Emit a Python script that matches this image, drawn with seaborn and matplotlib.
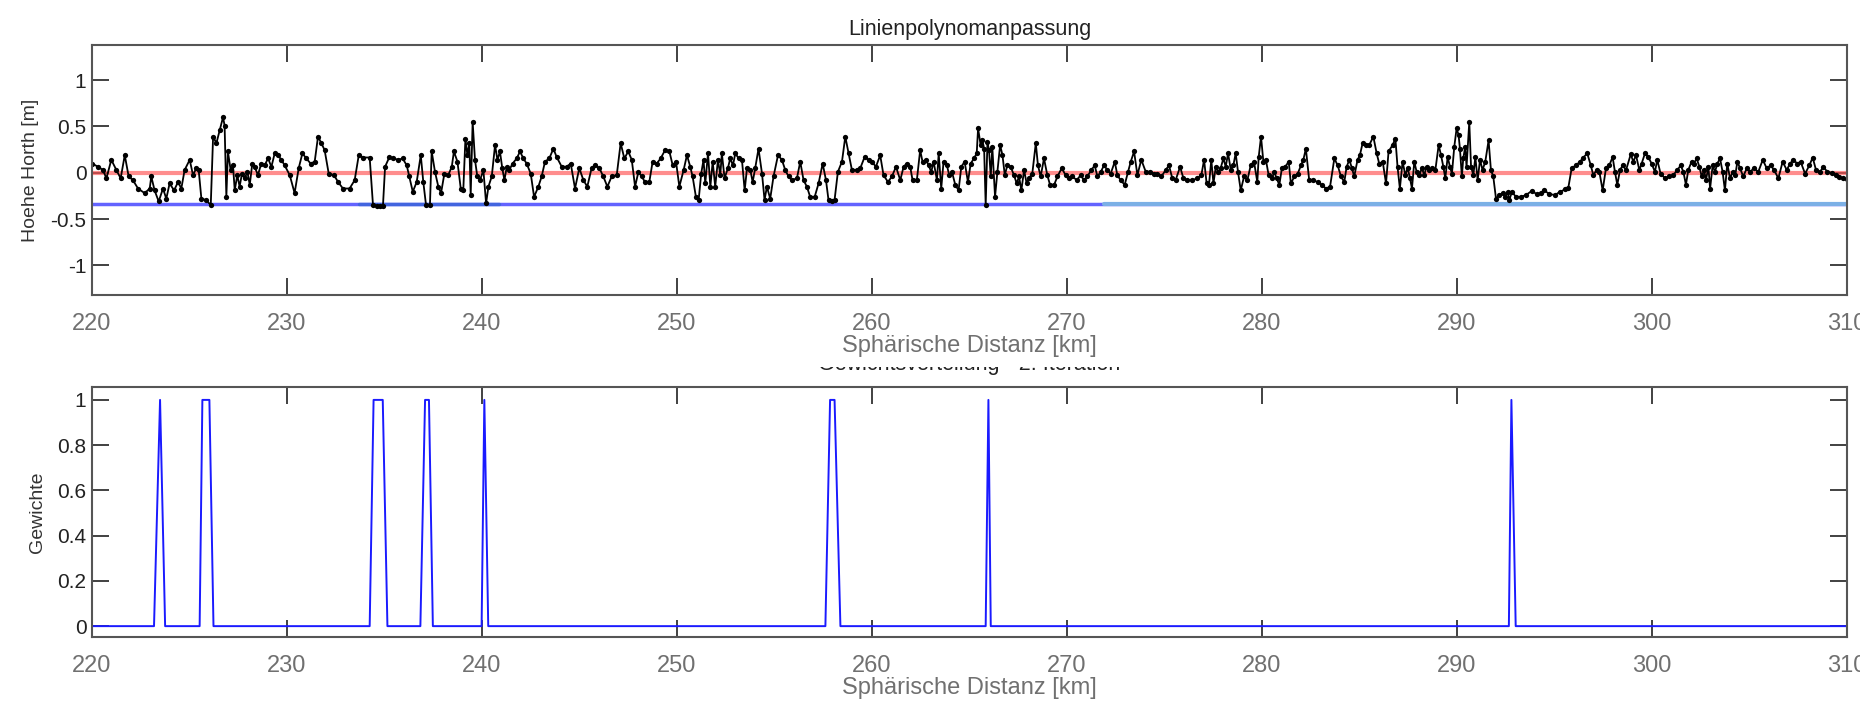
import matplotlib
matplotlib.use("Agg")
import matplotlib.pyplot as plt
from matplotlib.patches import Rectangle
import seaborn as sns
import pandas as pd

sns.set_theme(style="ticks")
plt.rcParams["font.family"] = ["Liberation Sans", "DejaVu Sans"]
plt.rcParams["axes.unicode_minus"] = False

# --- profile (black line) ---
dist_km = [
    220.00, 220.31, 220.56, 220.74, 220.99, 221.25, 221.47, 221.68, 221.88, 222.10,
    222.36, 222.70, 222.96, 223.04, 223.21, 223.42, 223.64, 223.81, 223.98, 224.21,
    224.41, 224.58, 224.75, 225.01, 225.18, 225.35, 225.47, 225.61, 225.86, 226.09,
    226.21, 226.38, 226.55, 226.72, 226.80, 226.89, 226.97, 227.11, 227.23, 227.32,
    227.45, 227.57, 227.69, 227.83, 227.97, 228.09, 228.22, 228.34, 228.51, 228.68,
    228.85, 229.03, 229.20, 229.37, 229.54, 229.71, 229.88, 230.14, 230.39, 230.60,
    230.79, 230.99, 231.21, 231.42, 231.59, 231.76, 231.93, 232.14, 232.41, 232.62,
    232.87, 233.21, 233.47, 233.68, 233.90, 234.24, 234.41, 234.60, 234.78, 234.92,
    235.03, 235.25, 235.45, 235.71, 235.93, 236.14, 236.27, 236.45, 236.65, 236.86,
    236.99, 237.13, 237.33, 237.42, 237.59, 237.76, 237.90, 238.07, 238.27, 238.45,
    238.56, 238.74, 238.91, 239.04, 239.15, 239.25, 239.35, 239.42, 239.52, 239.64,
    239.76, 239.90, 240.07, 240.21, 240.33, 240.50, 240.67, 240.79, 240.92, 241.04,
    241.15, 241.27, 241.40, 241.57, 241.78, 241.95, 242.12, 242.29, 242.50, 242.67,
    242.89, 243.06, 243.23, 243.45, 243.66, 243.83, 244.09, 244.34, 244.55, 244.77,
    244.99, 245.20, 245.40, 245.62, 245.80, 246.02, 246.22, 246.43, 246.65, 246.91,
    247.11, 247.30, 247.50, 247.68, 247.85, 248.02, 248.19, 248.36, 248.58, 248.75,
    248.96, 249.16, 249.39, 249.61, 249.78, 249.95, 250.12,
    250.34, 250.51, 250.68, 250.80, 250.97, 251.11, 251.24, 251.36, 251.45, 251.59,
    251.71, 251.83, 251.96, 252.10, 252.22, 252.30, 252.44, 252.61, 252.73, 252.87,
    252.99, 253.16, 253.33, 253.47, 253.59, 253.76, 253.88, 254.01, 254.18, 254.36,
    254.49, 254.61, 254.78, 254.95, 255.18, 255.38, 255.55, 255.72, 255.89, 256.15,
    256.32, 256.49, 256.66, 256.83, 257.06, 257.26, 257.47, 257.64, 257.77, 257.95,
    258.08, 258.25, 258.46, 258.63, 258.80, 258.97, 259.23, 259.40, 259.62, 259.83,
    260.00, 260.20, 260.42, 260.59, 260.82, 261.02, 261.23, 261.45, 261.62, 261.79,
    261.96, 262.08, 262.30, 262.47, 262.59, 262.77, 262.90, 263.04, 263.16, 263.33,
    263.42, 263.55, 263.67, 263.84, 263.96, 264.10, 264.27, 264.44, 264.58, 264.75,
    264.92,
    265.06, 265.23, 265.37, 265.44, 265.57, 265.66, 265.75, 265.83, 265.92, 266.00,
    266.09, 266.17, 266.31, 266.43, 266.57, 266.69, 266.81, 266.94, 267.11, 267.28,
    267.42, 267.54, 267.66, 267.80, 267.93, 268.05, 268.22, 268.40, 268.51, 268.65,
    268.82, 268.99, 269.13, 269.34, 269.51, 269.73, 269.93, 270.10, 270.28, 270.50,
    270.70, 270.87, 271.04, 271.25, 271.42, 271.56, 271.73, 271.90, 272.07, 272.24,
    272.45, 272.58, 272.75, 272.96, 273.13, 273.27, 273.44, 273.61, 273.81, 274.04,
    274.26, 274.46, 274.63, 274.84, 275.06, 275.23, 275.40, 275.57, 275.80, 275.97,
    276.17, 276.43, 276.69, 276.89, 277.03, 277.16, 277.28, 277.40, 277.51, 277.63,
    277.75, 277.88, 278.02, 278.14, 278.26, 278.40, 278.53, 278.65, 278.77, 278.91,
    279.08, 279.25, 279.42, 279.59, 279.76,
    279.83, 279.95, 280.07, 280.20, 280.34, 280.51, 280.63, 280.75, 280.89, 281.02,
    281.19, 281.37, 281.48, 281.66, 281.83, 282.00, 282.12, 282.25, 282.42, 282.63,
    282.85, 283.07, 283.28, 283.49, 283.71, 283.88, 284.05, 284.22, 284.34, 284.48,
    284.61, 284.73, 284.90, 285.02, 285.16, 285.33, 285.50, 285.71, 285.88, 286.01,
    286.19, 286.36, 286.49, 286.70, 286.84, 286.95, 287.07, 287.21, 287.35, 287.47,
    287.59, 287.69, 287.81, 287.93, 288.07, 288.20, 288.32, 288.44, 288.58, 288.72,
    288.89, 289.06, 289.18, 289.30, 289.40, 289.52, 289.64, 289.74, 289.86, 289.98,
    290.08, 290.15, 290.25, 290.32, 290.42, 290.49, 290.63, 290.72, 290.84, 290.94,
    291.06, 291.18, 291.31, 291.45, 291.62, 291.74, 291.86, 292.00, 292.17, 292.34,
    292.48, 292.60, 292.68, 292.82, 293.02, 293.28, 293.54, 293.84, 294.08, 294.31,
    294.48, 294.73,
    295.03, 295.28, 295.54, 295.71, 295.88, 296.10, 296.31, 296.48, 296.68, 296.86,
    296.99, 297.16, 297.30, 297.47, 297.64, 297.81, 297.98, 298.10, 298.22, 298.36,
    298.50, 298.67, 298.91, 299.04, 299.18, 299.35, 299.47, 299.64, 299.81, 299.98,
    300.15, 300.27, 300.44, 300.67, 300.89, 301.09, 301.30, 301.47, 301.61, 301.74,
    301.86, 302.03, 302.15, 302.29, 302.43, 302.55, 302.67, 302.77, 302.89, 302.98,
    303.11, 303.23, 303.35, 303.49, 303.62, 303.74, 303.86, 304.00, 304.14, 304.27,
    304.38, 304.51, 304.68, 304.86, 305.03, 305.23, 305.45, 305.68, 305.88, 306.09,
    306.26, 306.48, 306.70, 306.91, 307.08, 307.25, 307.45, 307.62, 307.85, 308.07,
    308.24, 308.41, 308.62, 308.79, 308.99, 309.21, 309.44, 309.61, 309.81, 310.00,
]
height_m = [
    0.10, 0.065, 0.03, -0.06, 0.14, 0.03, -0.06, 0.19, -0.04, -0.08,
    -0.17, -0.22, -0.17, -0.04, -0.19, -0.31, -0.17, -0.28, -0.115, -0.19,
    -0.10, -0.17, 0.03, 0.14, -0.025, 0.05, 0.03, -0.28, -0.295, -0.35,
    0.39, 0.32, 0.46, 0.60, 0.51, -0.26, 0.23, 0.03, 0.08, -0.19,
    -0.025, -0.15, -0.01, -0.06, 0.01, -0.13, 0.10, 0.065, -0.025, 0.10,
    0.08, 0.155, 0.065, 0.21, 0.19, 0.14, 0.08, -0.025, -0.22, 0.05,
    0.21, 0.155, 0.10, 0.12, 0.39, 0.32, 0.245, -0.01, -0.025, -0.10,
    -0.17, -0.17, -0.08, 0.19, 0.165, 0.165, -0.35, -0.36, -0.36, -0.36,
    0.065, 0.17, 0.155, 0.14, 0.155, 0.08, -0.04, -0.205, -0.10, 0.19,
    -0.10, -0.35, -0.35, 0.23, 0.01, -0.15, -0.22, -0.01, -0.025, 0.065,
    0.23, 0.12, -0.17, -0.19, 0.37, 0.19, 0.32, -0.24, 0.55, 0.14,
    -0.04, -0.08, 0.03, -0.33, -0.15, -0.04, 0.30, 0.14, 0.23, 0.05,
    -0.08, 0.065, 0.03, 0.10, 0.155, 0.23, 0.155, 0.10, -0.01, -0.26,
    -0.15, -0.04, 0.12, 0.155, 0.26, 0.17, 0.065, 0.065, 0.10, -0.17,
    0.05, -0.08, -0.15, 0.05, 0.08, 0.05, -0.04, -0.15, -0.04, -0.025,
    0.32, 0.155, 0.23, 0.14, -0.15, 0.01, -0.04, -0.10, -0.10, 0.12,
    0.10, 0.155, 0.245, 0.23, 0.08, 0.12, -0.15,
    0.03, 0.19, 0.065, -0.04, -0.26, -0.295, -0.01, 0.14, -0.115, 0.21,
    -0.15, 0.12, -0.15, 0.14, -0.025, 0.21, -0.06, 0.05, 0.155, 0.08,
    0.21, 0.155, 0.14, -0.19, 0.05, 0.03, -0.10, 0.05, 0.26, -0.01,
    -0.295, -0.15, -0.28, -0.04, 0.19, 0.14, 0.03, -0.04, -0.08, -0.06,
    0.12, -0.08, -0.15, -0.26, -0.26, -0.115, 0.10, -0.08, -0.295, -0.31,
    -0.295, 0.01, 0.12, 0.39, 0.21, 0.03, 0.03, 0.05, 0.17, 0.14,
    0.12, 0.065, 0.19, -0.025, -0.10, -0.04, 0.065, -0.08, 0.065, 0.10,
    0.065, -0.08, -0.08, 0.245, 0.12, 0.14, 0.08, 0.01, 0.12, -0.08,
    0.21, -0.17, 0.12, 0.08, -0.025, 0.01, -0.13, -0.19, 0.065, 0.12,
    -0.10,
    0.10, 0.155, 0.21, 0.48, 0.30, 0.35, 0.26, -0.35, 0.33, 0.245,
    -0.04, 0.28, -0.26, 0.01, 0.30, 0.19, -0.025, 0.08, 0.065, -0.025,
    -0.115, -0.04, -0.19, 0.03, -0.115, -0.06, -0.01, 0.32, 0.08, -0.04,
    0.155, -0.025, -0.13, -0.13, -0.04, 0.05, -0.025, -0.06, -0.04, -0.08,
    -0.025, -0.08, -0.04, 0.03, 0.08, -0.04, 0.01, 0.08, 0.03, -0.01,
    0.12, -0.025, -0.08, -0.13, 0.01, 0.12, 0.23, -0.025, 0.14, 0.01,
    0.01, -0.01, -0.01, -0.04, 0.03, 0.08, -0.06, -0.08, 0.065, -0.06,
    -0.08, -0.08, -0.06, -0.025, 0.14, -0.115, -0.13, 0.14, -0.115, 0.065,
    0.01, 0.05, 0.155, 0.065, 0.21, 0.03, 0.08, 0.21, 0.01, -0.19,
    -0.04, -0.08, 0.08, 0.12, -0.10,
    0.17, 0.39, 0.12, 0.14, -0.025, -0.06, 0.01, -0.06, -0.13, 0.05,
    0.065, 0.12, -0.115, -0.04, -0.01, 0.08, 0.14, 0.26, -0.08, -0.08,
    -0.10, -0.13, -0.17, -0.15, 0.155, 0.08, -0.04, -0.10, 0.065, 0.14,
    0.05, -0.04, 0.14, 0.19, 0.32, 0.30, 0.30, 0.39, 0.21, 0.10,
    0.12, -0.115, 0.23, 0.30, 0.37, 0.065, -0.17, 0.12, -0.025, 0.05,
    -0.06, -0.17, 0.12, 0.01, -0.025, 0.05, -0.025, 0.065, 0.03, 0.05,
    0.03, 0.30, 0.19, 0.065, -0.06, 0.17, 0.065, -0.01, 0.28, 0.48,
    0.41, 0.26, -0.04, 0.155, 0.28, 0.065, 0.55, 0.065, -0.025, 0.17,
    -0.08, 0.14, 0.03, 0.12, 0.35, 0.03, -0.04, -0.28, -0.24, -0.22,
    -0.26, -0.205, -0.295, -0.205, -0.26, -0.26, -0.24, -0.195, -0.23, -0.22,
    -0.19, -0.23,
    -0.24, -0.205, -0.18, -0.16, 0.05, 0.08, 0.12, 0.165, 0.21, 0.08,
    -0.025, 0.03, 0.01, -0.19, 0.05, 0.08, 0.17, 0.01, -0.13, 0.03,
    0.08, 0.03, 0.20, 0.12, 0.19, 0.03, 0.10, 0.21, 0.17, 0.10,
    0.01, 0.14, -0.01, -0.06, -0.04, -0.025, 0.03, 0.08, 0.01, -0.13,
    0.03, 0.12, 0.10, 0.155, 0.065, -0.04, 0.03, -0.08, 0.065, -0.17,
    0.08, 0.01, 0.10, 0.155, 0.01, -0.19, 0.10, -0.06, 0.01, -0.025,
    0.12, 0.05, -0.04, 0.05, 0.01, 0.05, 0.01, 0.14, 0.05, 0.08,
    0.03, -0.06, 0.12, 0.03, 0.10, 0.14, 0.10, 0.12, -0.01, 0.08,
    0.165, 0.03, 0.01, 0.065, 0.01, 0.00, -0.025, -0.05, -0.06, -0.07,
]

# fitted polynomial (red) and lower threshold (blue) lines
fit_x = [220, 310]
fit_y = [0.0, 0.0]
lower_x = [220, 310]
lower_y = [-0.34, -0.34]
lower_mid_x = [233.7, 240.85]
lower_right_x = [271.9, 310]

# weights (bottom panel)
weight_x = [220, 223.18, 223.49, 223.75, 225.52, 225.66, 226.02, 226.23,
            234.24, 234.44, 234.91, 235.15, 236.84, 237.08, 237.28, 237.48,
            239.98, 240.12, 240.32, 257.61, 257.85, 258.08, 258.38,
            265.83, 265.97, 266.09, 292.66, 292.79, 293.01, 310]
weight_y = [0, 0, 1, 0, 0, 1, 1, 0,
            0, 1, 1, 0, 0, 1, 1, 0,
            0, 1, 0, 0, 1, 1, 0,
            0, 1, 0, 0, 1, 0, 0]

x_ticks = [220, 230, 240, 250, 260, 270, 280, 290, 300, 310]
top_yticks = [-1, -0.5, 0, 0.5, 1]
top_ylabels = ["-1", "-0.5", "0", "0.5", "1"]
bot_yticks = [0, 0.2, 0.4, 0.6, 0.8, 1]
bot_ylabels = ["0", "0.2", "0.4", "0.6", "0.8", "1"]

profile = pd.DataFrame({"dist": dist_km, "height": height_m})
weights = pd.DataFrame({"dist": weight_x, "w": weight_y})

W, H = 1860, 706
fig = plt.figure(figsize=(W / 100, H / 100), dpi=100)
ax1 = fig.add_axes([92 / W, 1 - 295 / H, 1755 / W, 250 / H])
ax2 = fig.add_axes([92 / W, 1 - 637 / H, 1755 / W, 250 / H])
ax1.set_zorder(5)

"""top panel"""
sns.lineplot(x=fit_x, y=fit_y, color="#ff5050", lw=3, alpha=0.65, ax=ax1)
sns.lineplot(x=lower_x, y=lower_y, color="#4848ff", lw=2.5, alpha=0.85, ax=ax1)
sns.lineplot(x=lower_mid_x, y=lower_y, color="#3a66d8", lw=2.5, alpha=0.8, ax=ax1)
sns.lineplot(x=lower_right_x, y=lower_y, color="#7cb0e6", lw=3, ax=ax1)
sns.lineplot(data=profile, x="dist", y="height", color="black", lw=1.3,
             marker="o", markersize=3.8, markeredgewidth=0,
             estimator=None, sort=False, ax=ax1)
ax1.set_xlim(220, 310)
ax1.set_ylim(-1.32, 1.38)
ax1.set_yticks(top_yticks)
ax1.set_yticklabels(top_ylabels)
ax1.set_title("Linienpolynomanpassung", fontsize=15.5, color="#222", pad=7)
ax1.set_ylabel("Hoehe Horth [m]", fontsize=14, color="#333", labelpad=8)
ax1.set_xlabel("Sphärische Distanz [km]", fontsize=17, color="#707070", labelpad=0)

# white strip that hides most of the lower title, as in the original
ax1.add_patch(Rectangle((790 / W, 1 - 367 / H), 380 / W, 28 / H,
                        transform=fig.transFigure, facecolor="white",
                        edgecolor="none", clip_on=False, zorder=0.2))

"""bottom panel"""
sns.lineplot(data=weights, x="dist", y="w", color="#1a1aff", lw=1.4,
             estimator=None, sort=False, ax=ax2)
ax2.set_xlim(220, 310)
ax2.set_ylim(-0.048, 1.057)
ax2.set_yticks(bot_yticks)
ax2.set_yticklabels(bot_ylabels)
ax2.set_title("Gewichtsverteilung - 2. Iteration", fontsize=15.5, color="#222", pad=12)
ax2.set_ylabel("Gewichte", fontsize=14, color="#333", labelpad=8)
ax2.set_xlabel("Sphärische Distanz [km]", fontsize=17, color="#707070", labelpad=0)

for ax in (ax1, ax2):
    ax.set_xticks(x_ticks)
    ax.tick_params(direction="in", length=12, width=1.3, color="#333",
                   top=True, right=True)
    ax.tick_params(axis="x", labelsize=17, labelcolor="#707070", pad=13)
    ax.tick_params(axis="y", labelsize=15, labelcolor="#222", pad=4)
    for s in ax.spines.values():
        s.set_color("#555")
        s.set_linewidth(1.5)

fig.savefig("out.png", dpi=100)
